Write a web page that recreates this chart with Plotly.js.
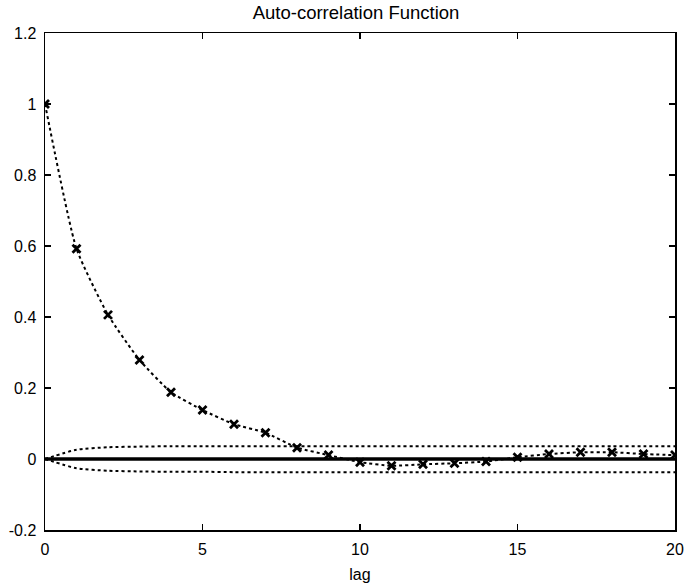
<!DOCTYPE html>
<html>
<head>
<meta charset="utf-8">
<script src="https://cdn.plot.ly/plotly-3.0.1.min.js"></script>
<style>html,body{margin:0;padding:0;background:#fff;}</style>
</head>
<body>
<div id="chart" style="width:686px;height:584px;"></div>
<script>
const lags = [0,1,2,3,4,5,6,7,8,9,10,11,12,13,14,15,16,17,18,19,20];
const acf = [1,0.592,0.406,0.279,0.188,0.138,0.098,0.074,0.032,0.011,-0.009,-0.019,-0.015,-0.012,-0.007,0.005,0.014,0.019,0.019,0.014,0.011];
const bandUpper = [0,0.026,0.033,0.035,0.036,0.036,0.036,0.036,0.036,0.036,0.036,0.036,0.036,0.036,0.036,0.036,0.036,0.036,0.036,0.036,0.036];
const bandLower = [0,-0.026,-0.033,-0.035,-0.036,-0.036,-0.037,-0.037,-0.037,-0.037,-0.037,-0.037,-0.037,-0.037,-0.037,-0.037,-0.037,-0.037,-0.037,-0.037,-0.037];
const zeroLine = [0,0,0,0,0,0,0,0,0,0,0,0,0,0,0,0,0,0,0,0,0];
const xTicks = [0,5,10,15,20];
const yTicks = [-0.2,0,0.2,0.4,0.6,0.8,1,1.2];
const yTickText = ['-0.2','0','0.2','0.4','0.6','0.8','1','1.2'];

const FONT = 'Liberation Sans, Arial, Helvetica, sans-serif';

const traces = [
  {x: lags, y: zeroLine, mode:'lines', line:{color:'#000', width:3.5}, hoverinfo:'skip'},
  {x: lags, y: bandUpper, mode:'lines', line:{color:'#000', width:2, dash:'dot', shape:'spline', smoothing:0.6}},
  {x: lags, y: bandLower, mode:'lines', line:{color:'#000', width:2, dash:'dot', shape:'spline', smoothing:0.6}},
  {x: lags, y: acf, mode:'lines+markers', line:{color:'#000', width:2, dash:'dot', shape:'spline', smoothing:0.5},
   marker:{symbol:'x-thin', size:8, line:{color:'#000', width:2.8}}}
];

const axisCommon = {
  showgrid:false, zeroline:false, showline:true, linecolor:'#000', linewidth:1.5,
  mirror:'allticks', ticks:'inside', ticklen:6, tickwidth:1.2, tickcolor:'#000',
  tickfont:{family:FONT, size:16, color:'#000'}
};

const layout = {
  width:686, height:584,
  margin:{l:45, r:11, t:33, b:54},
  paper_bgcolor:'#fff', plot_bgcolor:'#fff',
  showlegend:false,
  title:{text:'Auto-correlation Function', font:{family:FONT, size:18.5, color:'#000'}, x:0.519, xanchor:'center', y:0.979, yanchor:'middle'},
  xaxis: Object.assign({}, axisCommon, {range:[0,20], tickvals:xTicks, ticktext:xTicks.map(String), ticklabelstandoff:4,
    title:{text:'lag', font:{family:FONT, size:16, color:'#000'}, standoff:12}}),
  yaxis: Object.assign({}, axisCommon, {range:[-0.2,1.2], tickvals:yTicks, ticktext:yTickText, ticklabelstandoff:4})
};

Plotly.newPlot('chart', traces, layout, {displayModeBar:false, staticPlot:true});
</script>
</body>
</html>
